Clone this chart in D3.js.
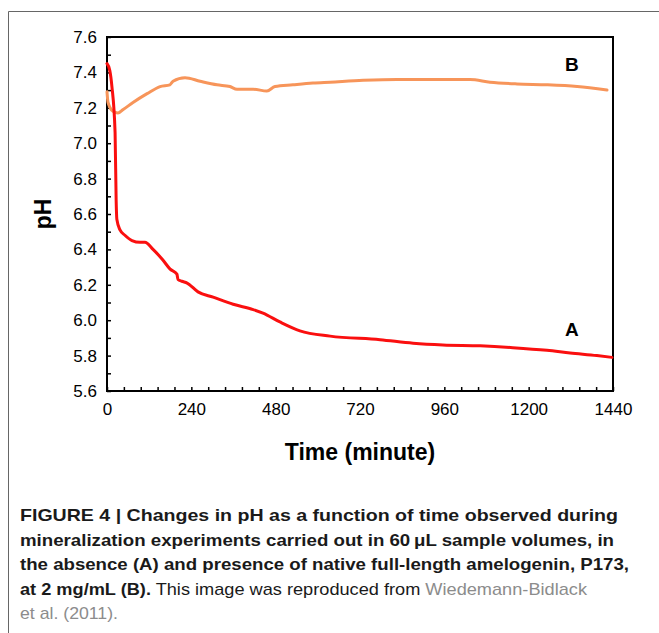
<!DOCTYPE html>
<html>
<head>
<meta charset="utf-8">
<script src="https://cdn.jsdelivr.net/npm/d3@7"></script>
<style>
  body { margin: 0; background: #fff; }
  svg text { font-family: "Liberation Sans", Arial, sans-serif; }
</style>
</head>
<body>
<svg width="659" height="633"></svg>
<script>
// pH over time, two runs

// time in minutes, pH
var timeA = [0, 8, 14, 23, 26, 28, 37, 51, 71, 94, 108, 131, 159, 179, 199, 202, 213, 228, 259, 302, 359, 416, 444, 492, 549, 635, 777, 871, 956, 1062, 1155, 1252, 1318, 1394, 1437];
var phA   = [7.45, 7.41, 7.32, 7.06, 6.68, 6.57, 6.51, 6.48, 6.45, 6.44, 6.44, 6.40, 6.34, 6.29, 6.26, 6.23, 6.22, 6.21, 6.16, 6.13, 6.09, 6.06, 6.04, 5.99, 5.94, 5.91, 5.89, 5.87, 5.86, 5.855, 5.845, 5.83, 5.815, 5.80, 5.79];

var timeB = [0, 3, 17, 31, 46, 74, 114, 151, 179, 188, 222, 265, 313, 350, 370, 416, 455, 478, 529, 586, 635, 729, 825, 919, 1013, 1033, 1090, 1167, 1252, 1338, 1423];
var phB   = [7.29, 7.23, 7.18, 7.17, 7.19, 7.23, 7.28, 7.32, 7.33, 7.35, 7.37, 7.35, 7.33, 7.32, 7.305, 7.305, 7.295, 7.32, 7.33, 7.34, 7.345, 7.355, 7.36, 7.36, 7.36, 7.36, 7.345, 7.335, 7.33, 7.32, 7.30];

var xTicks = d3.range(0, 1441, 48);
var xLabels = [0, 240, 480, 720, 960, 1200, 1440];
var yTicks = d3.range(56, 77, 1).map(function(d) { return d / 10; });

var captionLines = [
    [{ t: "FIGURE 4 | Changes in pH as a function of time observed during", b: true }],
    [{ t: "mineralization experiments carried out in 60\u2009\u03bcL sample volumes, in", b: true }],
    [{ t: "the absence (A) and presence of native full-length amelogenin, P173,", b: true }],
    [{ t: "at 2 mg/mL (B).", b: true }, { t: " This image was reproduced from " }, { t: "Wiedemann-Bidlack", g: true }],
    [{ t: "et al. (2011).", g: true }]
];
var captionWidths = [598, 594, 609, 567, 98];

var svg = d3.select("svg");

// figure frame (top and left edges only)
svg.append("path")
   .attr("d", "M8.5,633 V11.5 H659")
   .attr("fill", "none")
   .attr("stroke", "#666")
   .attr("stroke-width", 1);

var pLeft = 107, pTop = 37, pRight = 613, pBottom = 391;

var xScale = d3.scaleLinear().domain([0, 1440]).range([pLeft, pRight]);
var yScale = d3.scaleLinear().domain([5.6, 7.6]).range([pBottom, pTop]);

// y axis, ticks pointing inwards
var yAxis = d3.axisLeft(yScale)
              .tickValues(yTicks)
              .tickSizeInner(-4)
              .tickSizeOuter(0)
              .tickPadding(10)
              .tickFormat(function(d) {
                  return Math.round(d * 10) % 2 === 0 ? d3.format(".1f")(d) : "";
              });

svg.append("g")
   .attr("transform", "translate(" + pLeft + ",0)")
   .call(yAxis)
   .call(function(g) {
       g.select(".domain").remove();
       g.selectAll("line").attr("stroke-width", 1.5);
       g.selectAll("text").attr("font-size", 17).attr("fill", "#000");
   });

// x axis
var xAxis = d3.axisBottom(xScale)
              .tickValues(xTicks)
              .tickSizeInner(-4)
              .tickSizeOuter(0)
              .tickPadding(12)
              .tickFormat(function(d) { return xLabels.indexOf(d) >= 0 ? d : ""; });

svg.append("g")
   .attr("transform", "translate(0," + pBottom + ")")
   .call(xAxis)
   .call(function(g) {
       g.select(".domain").remove();
       g.selectAll("line").attr("stroke-width", 1.5);
       g.selectAll("text").attr("font-size", 17).attr("fill", "#000");
   });

// plot box
svg.append("rect")
   .attr("x", pLeft)
   .attr("y", pTop)
   .attr("width", pRight - pLeft)
   .attr("height", pBottom - pTop)
   .attr("fill", "none")
   .attr("stroke", "#000")
   .attr("stroke-width", 2);

var line = d3.line()
             .x(function(d) { return xScale(d[0]); })
             .y(function(d) { return yScale(d[1]); })
             .curve(d3.curveMonotoneX);

svg.append("path")
   .datum(d3.zip(timeB, phB))
   .attr("d", line)
   .attr("fill", "none")
   .attr("stroke", "#f7955a")
   .attr("stroke-width", 3)
   .attr("stroke-linecap", "round");

svg.append("path")
   .datum(d3.zip(timeA, phA))
   .attr("d", line)
   .attr("fill", "none")
   .attr("stroke", "#fa0f0f")
   .attr("stroke-width", 3)
   .attr("stroke-linecap", "round");

// series labels
svg.append("text")
   .attr("x", xScale(1323))
   .attr("y", yScale(7.41))
   .attr("text-anchor", "middle")
   .attr("font-size", 19)
   .attr("font-weight", "bold")
   .text("B");

svg.append("text")
   .attr("x", xScale(1323))
   .attr("y", yScale(5.91))
   .attr("text-anchor", "middle")
   .attr("font-size", 19)
   .attr("font-weight", "bold")
   .text("A");

// axis titles
svg.append("text")
   .attr("x", (pLeft + pRight) / 2)
   .attr("y", 460)
   .attr("text-anchor", "middle")
   .attr("font-size", 23)
   .attr("font-weight", "bold")
   .text("Time (minute)");

svg.append("text")
   .attr("transform", "translate(51," + (pTop + pBottom) / 2 + ") rotate(-90)")
   .attr("text-anchor", "middle")
   .attr("font-size", 23)
   .attr("font-weight", "bold")
   .text("pH");

// caption
var cap = svg.append("g");
captionLines.forEach(function(parts, i) {
    var t = cap.append("text")
               .attr("x", 20)
               .attr("y", 521 + i * 24.5)
               .attr("font-size", 17)
               .attr("textLength", captionWidths[i])
               .attr("lengthAdjust", "spacingAndGlyphs");
    parts.forEach(function(p) {
        t.append("tspan")
         .attr("font-weight", p.b ? "bold" : "normal")
         .attr("fill", p.g ? "#8c8c8c" : "#1a1a1a")
         .text(p.t);
    });
});
</script>
</body>
</html>
